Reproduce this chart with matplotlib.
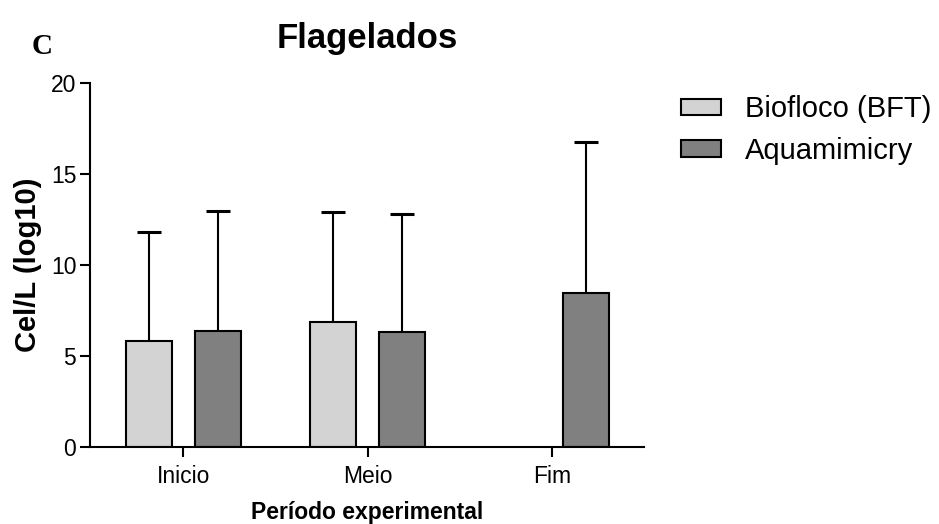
import matplotlib.pyplot as plt
import numpy as np

# Flagellate counts per experimental period (mean and SD, log10 cells/L)
periods = ["Inicio", "Meio", "Fim"]
bft_mean = [5.8, 6.85, np.nan]
bft_sd = [6.0, 6.05, np.nan]
aqua_mean = [6.35, 6.3, 8.45]
aqua_sd = [6.6, 6.5, 8.3]

series_labels = ["Biofloco (BFT)", "Aquamimicry"]
y_ticks = [0, 5, 10, 15, 20]

plt.rcParams["font.family"] = ["Liberation Sans", "DejaVu Sans"]

fig = plt.figure(figsize=(9.39, 5.24), dpi=100)
ax = fig.add_axes([0.096, 0.147, 0.590, 0.695])

x = np.arange(len(periods))
width = 0.25
offset = 0.187
cap = 0.065


def upper_errors(ax, xpos, mean, sd):
    """Draw only the upper half of each error bar, with a cap."""
    mean = np.asarray(mean, dtype=float)
    top = mean + np.asarray(sd, dtype=float)
    ok = ~np.isnan(top)
    ax.vlines(xpos[ok], mean[ok], top[ok], color="black", linewidth=1.5,
              zorder=1)
    ax.hlines(top[ok], xpos[ok] - cap, xpos[ok] + cap, color="black",
              linewidth=2.2, zorder=1)


b1 = ax.bar(x - offset, bft_mean, width, color="#d3d3d3", edgecolor="black",
            linewidth=1.5, label=series_labels[0], zorder=2)
b2 = ax.bar(x + offset, aqua_mean, width, color="#808080", edgecolor="black",
            linewidth=1.5, label=series_labels[1], zorder=2)

upper_errors(ax, x - offset, bft_mean, bft_sd)
upper_errors(ax, x + offset, aqua_mean, aqua_sd)

ax.set_xlim(-0.505, 2.5)
ax.set_ylim(0, 20)
ax.set_yticks(y_ticks)
ax.set_xticks(x)
ax.set_xticklabels(periods)

for side in ["top", "right"]:
    ax.spines[side].set_visible(False)
for side in ["left", "bottom"]:
    ax.spines[side].set_linewidth(1.5)

ax.tick_params(axis="both", labelsize=16.5, width=1.5, length=7,
               direction="out")
ax.tick_params(axis="x", pad=6)
ax.tick_params(axis="y", pad=3)

ax.set_ylabel("Cel/L (log10)", fontsize=21, fontweight="bold", labelpad=6)
ax.set_xlabel("Período experimental", fontsize=16.5, fontweight="bold",
              labelpad=9)
ax.set_title("Flagelados", fontsize=25, fontweight="bold", pad=25)

fig.text(0.034, 0.912, "C", fontsize=21, fontweight="bold",
         family="Liberation Serif", ha="left", va="center")

fig.legend(handles=[b1, b2], loc="upper left", bbox_to_anchor=(0.7252, 0.8185),
           frameon=False, fontsize=21, handlelength=1.37, handleheight=0.48,
           handletextpad=0.82, labelspacing=0.47, borderpad=0,
           borderaxespad=0)

fig.savefig("out.png", dpi=100)
